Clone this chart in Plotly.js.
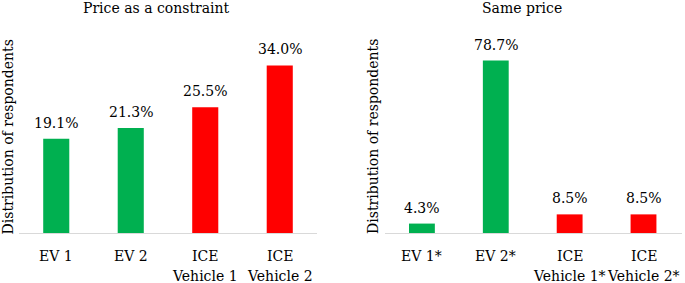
<!DOCTYPE html>
<html>
<head>
<meta charset="utf-8">
<script src="https://cdn.plot.ly/plotly-3.0.1.min.js"></script>
<style>html,body{margin:0;padding:0;background:#fff;}#chart{width:685px;height:283px;}</style>
</head>
<body>
<div id="chart"></div>
<script>
const leftTitle = "Price as a constraint";
const rightTitle = "Same price";
const yTitle = "Distribution of respondents";
const leftCategories = ["EV 1", "EV 2", "ICE Vehicle 1", "ICE Vehicle 2"];
const leftLine1 = ["EV 1", "EV 2", "ICE", "ICE"];
const leftLine2 = ["", "", "Vehicle 1", "Vehicle 2"];
const leftValues = [19.1, 21.3, 25.5, 34.0];
const rightCategories = ["EV 1*", "EV 2*", "ICE Vehicle 1*", "ICE Vehicle 2*"];
const rightLine1 = ["EV 1*", "EV 2*", "ICE", "ICE"];
const rightLine2 = ["", "", "Vehicle 1*", "Vehicle 2*"];
const rightValues = [4.3, 78.7, 8.5, 8.5];
const barColors = ["#00B050", "#00B050", "#FF0000", "#FF0000"];

const FONT = "DejaVu Serif, serif";
const FS = 14;
const W = 685, H = 283;
const px = x => x / W;
const py = y => (H - y) / H;
const f = {family: FONT, size: FS, color: "#000"};

const traces = [
  {type: "bar", x: leftCategories, y: leftValues, xaxis: "x", yaxis: "y",
   marker: {color: barColors, line: {width: 0}}, width: 0.35, hoverinfo: "skip"},
  {type: "bar", x: rightCategories, y: rightValues, xaxis: "x2", yaxis: "y2",
   marker: {color: barColors, line: {width: 0}}, width: 0.35, hoverinfo: "skip"}
];

const annotations = [];
function addPanel(cats, vals, l1, l2, xr, yr) {
  cats.forEach((c, i) => {
    annotations.push({xref: xr, yref: yr, x: c, y: vals[i], text: vals[i].toFixed(1) + "%",
      showarrow: false, xanchor: "center", yanchor: "bottom", yshift: 6, font: f});
    annotations.push({xref: xr, yref: "paper", x: c, y: py(256), text: l1[i],
      showarrow: false, xanchor: "center", yanchor: "middle", font: f});
    if (l2[i]) annotations.push({xref: xr, yref: "paper", x: c, y: py(276), text: l2[i],
      showarrow: false, xanchor: "center", yanchor: "middle", font: f});
  });
}
addPanel(leftCategories, leftValues, leftLine1, leftLine2, "x", "y");
addPanel(rightCategories, rightValues, rightLine1, rightLine2, "x2", "y2");

annotations.push({xref: "paper", yref: "paper", x: px(156), y: py(8.5), text: leftTitle,
  showarrow: false, xanchor: "center", yanchor: "middle", font: f});
annotations.push({xref: "paper", yref: "paper", x: px(522), y: py(8.5), text: rightTitle,
  showarrow: false, xanchor: "center", yanchor: "middle", font: f});
annotations.push({xref: "paper", yref: "paper", x: px(7.5), y: py(137), text: yTitle, textangle: -90,
  showarrow: false, xanchor: "center", yanchor: "middle", font: f});
annotations.push({xref: "paper", yref: "paper", x: px(373), y: py(137), text: yTitle, textangle: -90,
  showarrow: false, xanchor: "center", yanchor: "middle", font: f});

const xCommon = {
  showgrid: false, zeroline: false, showline: true, linecolor: "#D9D9D9", linewidth: 1,
  ticks: "", showticklabels: false, fixedrange: true
};
const yCommon = {
  showgrid: false, zeroline: false, showline: false, showticklabels: false, ticks: "", fixedrange: true
};

const layout = {
  width: W, height: H,
  margin: {l: 0, r: 0, t: 0, b: 0},
  paper_bgcolor: "#fff", plot_bgcolor: "#fff",
  showlegend: false,
  font: f,
  xaxis: Object.assign({domain: [px(19), px(317)], anchor: "y"}, xCommon),
  xaxis2: Object.assign({domain: [px(385), px(682)], anchor: "y2"}, xCommon),
  yaxis: Object.assign({domain: [py(233), py(40)], range: [0, 39.15], anchor: "x"}, yCommon),
  yaxis2: Object.assign({domain: [py(233), py(40)], range: [0, 88.1], anchor: "x2"}, yCommon),
  annotations: annotations
};

Plotly.newPlot("chart", traces, layout, {staticPlot: true, displayModeBar: false});
</script>
</body>
</html>
